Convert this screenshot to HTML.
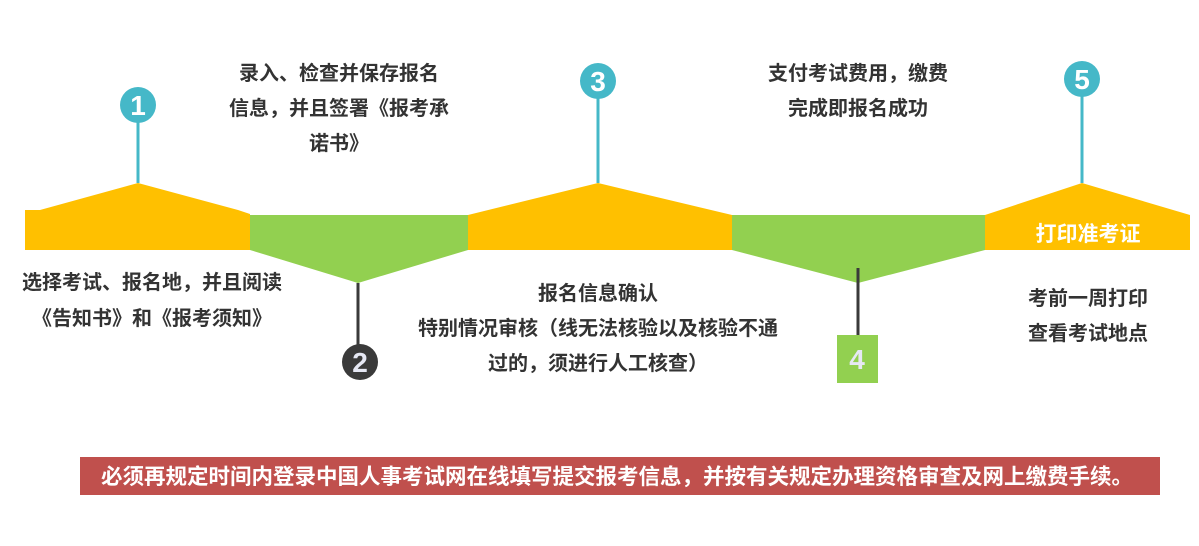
<!DOCTYPE html>
<html><head><meta charset="utf-8"><style>
html,body{margin:0;padding:0;background:#fff;width:1199px;height:546px;overflow:hidden}
svg text{font-family:"Liberation Sans","Noto Sans CJK SC",sans-serif;font-weight:bold}
</style></head><body>
<svg width="1199" height="546" viewBox="0 0 1199 546" xmlns="http://www.w3.org/2000/svg">
<polygon points="25,210 40,210 138,183 238,210 250,214 250,250 25,250" fill="#FFC000"/>
<polygon points="250,215 468,215 468,250 358,283 250,250" fill="#92D050"/>
<polygon points="468,215 598,183 732,215 732,250 468,250" fill="#FFC000"/>
<polygon points="732,215 985,215 985,250 858,283 732,250" fill="#92D050"/>
<polygon points="985,215 1082,183 1190,215 1190,250 985,250" fill="#FFC000"/>
<text x="1088" y="241" font-size="21" fill="#fff" text-anchor="middle">打印准考证</text>
<line x1="138" y1="120" x2="138" y2="183" stroke="#45B8C8" stroke-width="3"/>
<line x1="598" y1="98" x2="598" y2="183" stroke="#45B8C8" stroke-width="3"/>
<line x1="1082" y1="96" x2="1082" y2="183" stroke="#45B8C8" stroke-width="3"/>
<line x1="358" y1="283" x2="358" y2="345" stroke="#3A3A3A" stroke-width="3"/>
<line x1="858" y1="268" x2="858" y2="335" stroke="#3A3A3A" stroke-width="3"/>
<circle cx="138" cy="105" r="18" fill="#45B8C8"/>
<text x="138" y="115" font-size="28" fill="#fff" text-anchor="middle">1</text>
<circle cx="598" cy="81" r="18" fill="#45B8C8"/>
<text x="598" y="91" font-size="28" fill="#fff" text-anchor="middle">3</text>
<circle cx="1082" cy="79" r="18" fill="#45B8C8"/>
<text x="1082" y="89" font-size="28" fill="#fff" text-anchor="middle">5</text>
<circle cx="360" cy="362" r="18" fill="#3A3A3A"/>
<text x="360" y="372" font-size="28" fill="#E6E8F4" text-anchor="middle">2</text>
<rect x="837" y="335" width="41" height="48" fill="#92D050"/>
<text x="857" y="369" font-size="28" fill="#E6E8F4" text-anchor="middle">4</text>
<g font-size="20" fill="#333" text-anchor="middle">
<text x="339" y="80">录入、检查并保存报名</text>
<text x="339" y="115">信息，并且签署《报考承</text>
<text x="339" y="150">诺书》</text>
<text x="858" y="80">支付考试费用，缴费</text>
<text x="858" y="115">完成即报名成功</text>
<text x="152" y="289">选择考试、报名地，并且阅读</text>
<text x="152" y="325">《告知书》和《报考须知》</text>
<text x="598" y="300">报名信息确认</text>
<text x="598" y="335">特别情况审核（线无法核验以及核验不通</text>
<text x="598" y="370">过的，须进行人工核查）</text>
<text x="1088" y="305">考前一周打印</text>
<text x="1088" y="340">查看考试地点</text>
</g>
<rect x="80" y="457" width="1080" height="38" fill="#C0504D"/>
<text x="617" y="484" font-size="21.5" fill="#fff" text-anchor="middle">必须再规定时间内登录中国人事考试网在线填写提交报考信息，并按有关规定办理资格审查及网上缴费手续。</text>
</svg>
</body></html>
